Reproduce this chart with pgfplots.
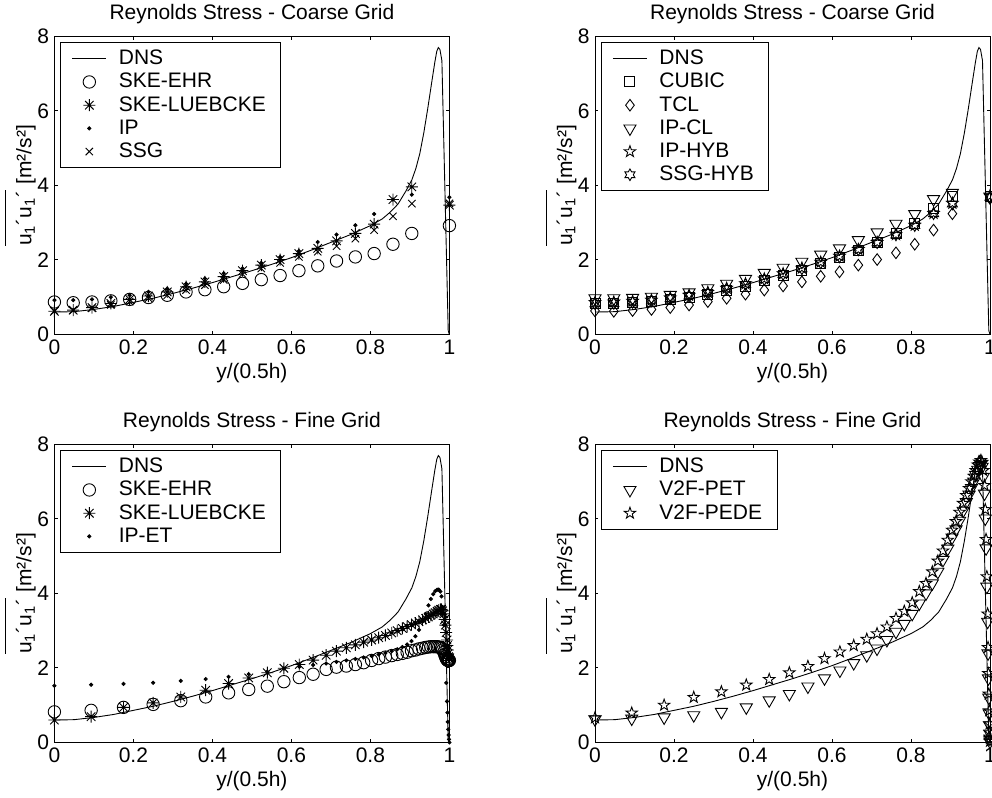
\documentclass[border=0pt]{standalone}
\usepackage{fontspec}
\setmainfont{Liberation Sans}
\usepackage{amsmath}
\usepackage{pgfplots}
\usepackage{pgfplotstable}
\pgfplotsset{compat=1.18}

\newcommand\fs{\fontsize{10.5}{12.6}\selectfont}

% matlab-like markers
\pgfdeclareplotmark{ast}{%
  \pgfpathmoveto{\pgfqpoint{0pt}{\pgfplotmarksize}}\pgfpathlineto{\pgfqpoint{0pt}{-\pgfplotmarksize}}%
  \pgfpathmoveto{\pgfqpoint{\pgfplotmarksize}{0pt}}\pgfpathlineto{\pgfqpoint{-\pgfplotmarksize}{0pt}}%
  \pgfpathmoveto{\pgfpointpolar{45}{\pgfplotmarksize}}\pgfpathlineto{\pgfpointpolar{225}{\pgfplotmarksize}}%
  \pgfpathmoveto{\pgfpointpolar{135}{\pgfplotmarksize}}\pgfpathlineto{\pgfpointpolar{315}{\pgfplotmarksize}}%
  \pgfusepathqstroke}
\pgfdeclareplotmark{pent}{%
  \pgfpathmoveto{\pgfpointpolar{90}{\pgfplotmarksize}}%
  \pgfpathlineto{\pgfpointpolar{126}{0.4\pgfplotmarksize}}%
  \pgfpathlineto{\pgfpointpolar{162}{\pgfplotmarksize}}%
  \pgfpathlineto{\pgfpointpolar{198}{0.4\pgfplotmarksize}}%
  \pgfpathlineto{\pgfpointpolar{234}{\pgfplotmarksize}}%
  \pgfpathlineto{\pgfpointpolar{270}{0.4\pgfplotmarksize}}%
  \pgfpathlineto{\pgfpointpolar{306}{\pgfplotmarksize}}%
  \pgfpathlineto{\pgfpointpolar{342}{0.4\pgfplotmarksize}}%
  \pgfpathlineto{\pgfpointpolar{18}{\pgfplotmarksize}}%
  \pgfpathlineto{\pgfpointpolar{54}{0.4\pgfplotmarksize}}%
  \pgfpathclose\pgfusepathqstroke}
\pgfdeclareplotmark{hexa}{%
  \pgfpathmoveto{\pgfpointpolar{90}{\pgfplotmarksize}}%
  \pgfpathlineto{\pgfpointpolar{120}{0.577\pgfplotmarksize}}%
  \pgfpathlineto{\pgfpointpolar{150}{\pgfplotmarksize}}%
  \pgfpathlineto{\pgfpointpolar{180}{0.577\pgfplotmarksize}}%
  \pgfpathlineto{\pgfpointpolar{210}{\pgfplotmarksize}}%
  \pgfpathlineto{\pgfpointpolar{240}{0.577\pgfplotmarksize}}%
  \pgfpathlineto{\pgfpointpolar{270}{\pgfplotmarksize}}%
  \pgfpathlineto{\pgfpointpolar{300}{0.577\pgfplotmarksize}}%
  \pgfpathlineto{\pgfpointpolar{330}{\pgfplotmarksize}}%
  \pgfpathlineto{\pgfpointpolar{0}{0.577\pgfplotmarksize}}%
  \pgfpathlineto{\pgfpointpolar{30}{\pgfplotmarksize}}%
  \pgfpathlineto{\pgfpointpolar{60}{0.577\pgfplotmarksize}}%
  \pgfpathclose\pgfusepathqstroke}

% DNS profile
\pgfplotstableread{
x y
0 0.60
0.05 0.61
0.1 0.67
0.15 0.75
0.2 0.86
0.25 0.97
0.3 1.10
0.35 1.24
0.4 1.39
0.45 1.55
0.5 1.71
0.55 1.88
0.6 2.06
0.65 2.26
0.7 2.47
0.75 2.68
0.8 2.92
0.83 3.10
0.85 3.28
0.87 3.50
0.89 3.85
0.905 4.15
0.915 4.45
0.925 4.85
0.935 5.40
0.945 6.05
0.955 6.75
0.963 7.30
0.968 7.60
0.972 7.70
0.976 7.65
0.981 7.35
0.997 0.10
1.0 0.0
}\dns

% coarse grid, left panel
\pgfplotstableread{
x ehr lue ip ssg
0.0000 0.87 0.62 0.92 0.63
0.0476 0.85 0.65 0.92 0.65
0.0952 0.87 0.72 0.94 0.70
0.1429 0.90 0.83 1.00 0.79
0.1905 0.94 0.94 1.05 0.88
0.2381 0.99 1.03 1.14 0.97
0.2857 1.05 1.14 1.23 1.05
0.3333 1.14 1.28 1.36 1.19
0.3810 1.20 1.41 1.50 1.32
0.4286 1.28 1.55 1.64 1.46
0.4762 1.37 1.71 1.77 1.62
0.5238 1.47 1.86 1.92 1.77
0.5714 1.58 2.01 2.08 1.92
0.6190 1.71 2.17 2.24 2.08
0.6667 1.84 2.31 2.48 2.22
0.7143 1.97 2.51 2.68 2.37
0.7619 2.08 2.71 2.93 2.57
0.8095 2.17 2.96 3.23 2.80
0.8571 2.42 3.62 3.62 3.17
0.9048 2.71 3.96 3.75 3.51
1.0000 2.92 3.47 3.68 3.52
}\ctl

% coarse grid, right panel
\pgfplotstableread{
x cubic tcl ipcl iphyb ssghyb
0.0000 0.82 0.63 0.97 0.86 0.82
0.0476 0.83 0.62 0.97 0.87 0.83
0.0952 0.86 0.64 0.98 0.89 0.86
0.1429 0.89 0.67 1.01 0.92 0.90
0.1905 0.94 0.72 1.06 0.98 0.96
0.2381 1.00 0.79 1.13 1.05 1.03
0.2857 1.08 0.88 1.24 1.13 1.11
0.3333 1.18 0.97 1.36 1.24 1.22
0.3810 1.30 1.08 1.49 1.36 1.34
0.4286 1.44 1.19 1.65 1.49 1.47
0.4762 1.58 1.30 1.79 1.63 1.61
0.5238 1.73 1.41 1.95 1.78 1.76
0.5714 1.90 1.56 2.14 1.94 1.92
0.6190 2.06 1.68 2.31 2.10 2.08
0.6667 2.26 1.86 2.53 2.28 2.27
0.7143 2.46 2.01 2.74 2.47 2.46
0.7619 2.71 2.19 2.97 2.68 2.67
0.8095 2.99 2.42 3.23 2.93 2.92
0.8571 3.38 2.80 3.63 3.25 3.24
0.9048 3.71 3.24 3.80 3.52 3.50
1.0000 3.69 3.65 3.70 3.72 3.68
}\ctr

% fine grid, left panel
\pgfplotstableread{
x ehr lue ipet
0 0.82 0.60 1.52
0.093 0.86 0.69 1.55
0.175 0.94 0.94 1.57
0.25 1.02 1.06 1.60
0.32 1.12 1.22 1.65
0.383 1.22 1.40 1.70
0.441 1.33 1.58 1.76
0.492 1.42 1.73 1.83
0.539 1.51 1.87 1.90
0.581 1.63 1.99 1.98
0.62 1.74 2.09 2.03
0.655 1.83 2.21 2.08
0.688 1.96 2.34 2.12
0.714 2.02 2.45 2.16
0.739 2.05 2.54 2.20
0.762 2.09 2.62 2.24
0.783 2.14 2.69 2.28
0.803 2.20 2.75 2.32
0.821 2.25 2.81 2.36
0.838 2.29 2.87 2.40
0.854 2.33 2.94 2.45
0.868 2.36 3.00 2.50
0.881 2.39 3.06 2.56
0.893 2.42 3.11 2.63
0.904 2.46 3.16 2.72
0.914 2.48 3.20 2.85
0.923 2.51 3.24 3.02
0.932 2.53 3.29 3.24
0.94 2.55 3.33 3.45
0.947 2.56 3.37 3.68
0.953 2.57 3.41 3.85
0.959 2.57 3.45 3.98
0.964 2.57 3.48 4.06
0.969 2.57 3.52 4.10
0.973 2.56 3.55 4.10
0.977 2.55 3.57 4.05
0.98 2.52 3.57 3.92
0.983 2.48 3.53 3.62
0.986 2.42 3.45 3.15
0.988 2.36 3.30 2.60
0.99 2.30 3.15 2.10
0.992 2.25 2.95 1.60
0.994 2.22 2.75 1.10
0.995 2.21 2.60 0.80
0.996 2.20 2.48 0.55
0.997 2.20 2.38 0.35
0.998 2.20 2.30 0.20
0.999 2.20 2.26 0.08
1.0 2.20 2.25 0.00
}\ftl

% fine grid, right panel
\pgfplotstableread{
x pet pede
0 0.62 0.66
0.093 0.64 0.79
0.175 0.67 1.00
0.25 0.73 1.21
0.32 0.82 1.36
0.383 0.94 1.54
0.441 1.13 1.69
0.492 1.30 1.87
0.539 1.50 2.04
0.581 1.72 2.25
0.62 1.93 2.43
0.655 2.13 2.60
0.688 2.34 2.77
0.714 2.52 2.92
0.739 2.75 3.10
0.762 2.97 3.33
0.783 3.18 3.52
0.803 3.45 3.75
0.821 3.73 4.05
0.838 4.00 4.27
0.854 4.27 4.58
0.868 4.58 4.87
0.881 4.90 5.14
0.893 5.20 5.43
0.904 5.50 5.70
0.914 5.72 5.93
0.923 5.95 6.18
0.932 6.22 6.42
0.94 6.45 6.63
0.947 6.65 6.82
0.953 6.83 7.00
0.959 7.00 7.15
0.964 7.18 7.30
0.969 7.32 7.45
0.973 7.42 7.53
0.977 7.45 7.57
0.98 7.40 7.52
0.983 7.13 7.30
0.986 6.68 6.90
0.988 6.01 6.25
0.99 5.21 5.45
0.992 4.18 4.45
0.994 3.24 3.45
0.995 2.39 2.55
0.996 1.72 1.85
0.997 1.20 1.30
0.998 0.78 0.85
0.999 0.46 0.50
0.9995 0.24 0.26
0.9998 0.10 0.11
1.0 0.02 0.03
}\ftr

\pgfplotsset{
  rs/.style={
    scale only axis, width=197.5pt, height=149pt,
    anchor=south west,
    xmin=0, xmax=1, ymin=0, ymax=8,
    xtick={0,0.2,0.4,0.6,0.8,1}, ytick={0,2,4,6,8},
    /pgf/number format/assume math mode=true,
    tick label style={font=\fs, inner sep=2.5pt},
    major tick length=1.7pt,
    tick style={black, line width=0.5pt},
    axis line style={line width=0.5pt},
    title style={font=\fs, at={(axis description cs:0.5,1)}, anchor=base, yshift=2.2pt},
    xlabel={y/(0.5h)},
    xlabel style={font=\fs, at={(axis description cs:0.5,0)}, anchor=base, yshift=-22.3pt},
    ylabel={$\overline{\rule{0pt}{11.5pt}\text{u}_{\text{1}}\text{´}\text{u}_{\text{1}}\text{´}}$\ [m²/s²]},
    ylabel style={font=\fs, at={(axis description cs:-0.058,0.5)}, anchor=base},
    legend style={at={(axis description cs:0.015,0.98)}, anchor=north west,
      draw=black, line width=0.5pt, font=\fs, inner xsep=5.5pt, inner ysep=1.5pt,
      row sep=-1.2pt, column sep=4pt},
    legend cell align=left,
    clip=false,
    every axis plot/.append style={black, line width=0.45pt},
  },
}

\begin{document}
\begin{tikzpicture}
\useasboundingbox (0,0) rectangle (496pt,399pt);

% top left
\begin{axis}[rs, at={(27.2pt,231.8pt)}, title={Reynolds Stress - Coarse Grid}]
\addplot[no marks] table[x=x,y=y]{\dns};
\addlegendentry{DNS}
\addplot[only marks, mark=o, mark size=3.1pt] table[x=x,y=ehr]{\ctl};
\addlegendentry{SKE-EHR}
\addplot[only marks, mark=ast, mark size=3pt] table[x=x,y=lue]{\ctl};
\addlegendentry{SKE-LUEBCKE}
\addplot[only marks, mark=*, mark size=0.8pt] table[x=x,y=ip]{\ctl};
\addlegendentry{IP}
\addplot[only marks, mark=x, mark size=2.6pt] table[x=x,y=ssg]{\ctl};
\addlegendentry{SSG}
\end{axis}

% top right
\begin{axis}[rs, at={(297.5pt,231.8pt)}, title={Reynolds Stress - Coarse Grid}]
\addplot[no marks] table[x=x,y=y]{\dns};
\addlegendentry{DNS}
\addplot[only marks, mark=square, mark size=2.5pt] table[x=x,y=cubic]{\ctr};
\addlegendentry{CUBIC}
\addplot[only marks, mark=diamond, mark size=2.9pt] table[x=x,y=tcl]{\ctr};
\addlegendentry{TCL}
\addplot[only marks, mark=triangle, mark size=3.5pt, mark options={rotate=180}] table[x=x,y=ipcl]{\ctr};
\addlegendentry{IP-CL}
\addplot[only marks, mark=pent, mark size=3pt] table[x=x,y=iphyb]{\ctr};
\addlegendentry{IP-HYB}
\addplot[only marks, mark=hexa, mark size=2.9pt] table[x=x,y=ssghyb]{\ctr};
\addlegendentry{SSG-HYB}
\end{axis}

% bottom left
\begin{axis}[rs, at={(27.2pt,27.8pt)}, title={Reynolds Stress - Fine Grid}]
\addplot[no marks] table[x=x,y=y]{\dns};
\addlegendentry{DNS}
\addplot[only marks, mark=o, mark size=3.1pt] table[x=x,y=ehr]{\ftl};
\addlegendentry{SKE-EHR}
\addplot[only marks, mark=ast, mark size=3pt] table[x=x,y=lue]{\ftl};
\addlegendentry{SKE-LUEBCKE}
\addplot[only marks, mark=*, mark size=0.8pt] table[x=x,y=ipet]{\ftl};
\addlegendentry{IP-ET}
\end{axis}

% bottom right
\begin{axis}[rs, at={(297.5pt,27.8pt)}, title={Reynolds Stress - Fine Grid}]
\addplot[no marks] table[x=x,y=y]{\dns};
\addlegendentry{DNS}
\addplot[only marks, mark=triangle, mark size=3.5pt, mark options={rotate=180}] table[x=x,y=pet]{\ftr};
\addlegendentry{V2F-PET}
\addplot[only marks, mark=pent, mark size=3pt] table[x=x,y=pede]{\ftr};
\addlegendentry{V2F-PEDE}
\end{axis}
\end{tikzpicture}
\end{document}
